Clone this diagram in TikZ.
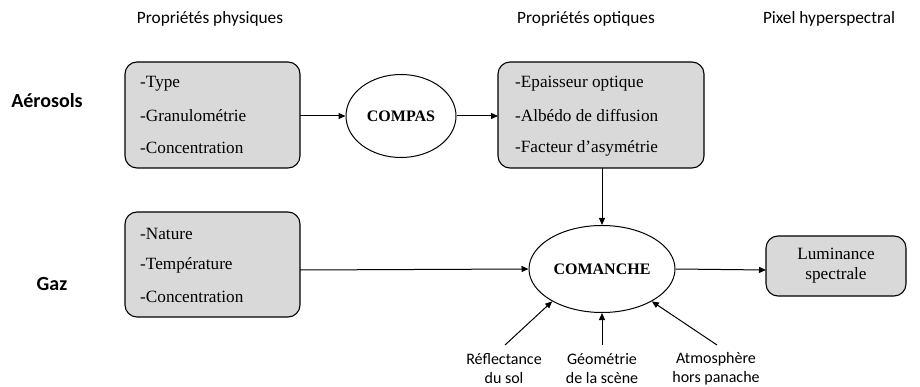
\documentclass[tikz,border=0pt]{standalone}
\usepackage{fontspec}
\setmainfont{Liberation Serif}
\newfontfamily\lblfont{Carlito}
\usetikzlibrary{shapes.geometric,arrows.meta}
\definecolor{boxgray}{HTML}{D9D9D9}
\tikzset{
  propbox/.style={draw=black, line width=1.1pt, fill=boxgray, rounded corners=12pt},
  model/.style={draw=black, line width=1pt, ellipse, fill=white, inner sep=0pt, font=\fontsize{16}{18}\selectfont\bfseries},
  item/.style={anchor=west, font=\fontsize{17.2}{20}\selectfont, inner sep=0pt},
  lbl/.style={font=\lblfont\fontsize{17.3}{20}\selectfont, inner sep=0pt},
  srclbl/.style={font=\lblfont\fontsize{16}{19}\selectfont, inner sep=0pt, align=center},
  side/.style={font=\lblfont\bfseries\fontsize{20}{22}\selectfont, inner sep=0pt},
  conn/.style={line width=1pt, -{Triangle[length=7pt,width=6pt]}}
}
\begin{document}
\begin{tikzpicture}[x=1pt,y=-1pt]
\useasboundingbox (0,0) rectangle (920,387);
% headers
\node[lbl] (h1) at (210,19) {Propriétés physiques};
\node[lbl] (h2) at (586,19) {Propriétés optiques};
\node[lbl] (h3) at (829,19) {Pixel hyperspectral};
\node[side] (aer) at (47,101) {Aérosols};
\node[side] (gaz) at (52,284) {Gaz};
% aerosol box
\draw[propbox] (125,62) rectangle (300,168);
\node[item] (a1) at (140,84) {-Type};
\node[item] (a2) at (140,116) {-Granulométrie};
\node[item] (a3) at (140,148) {-Concentration};
\coordinate (b1r) at (300,116);
% COMPAS
\node[model, minimum width=110pt, minimum height=83pt] (compas) at (401,116) {COMPAS};
% optical box
\draw[propbox] (498,62) rectangle (704,168);
\node[item] (o1) at (515,84) {-Epaisseur optique};
\node[item] (o2) at (515,116) {-Albédo de diffusion};
\node[item] (o3) at (515,148) {-Facteur d’asymétrie};
\coordinate (b2l) at (498,116);
\coordinate (b2b) at (602,168);
% gas box
\draw[propbox] (125,212) rectangle (300,317);
\node[item] (g1) at (140,234) {-Nature};
\node[item] (g2) at (140,265) {-Température};
\node[item] (g3) at (140,297) {-Concentration};
\coordinate (b3r) at (300,270);
% COMANCHE
\node[model, minimum width=146pt, minimum height=87pt] (comanche) at (602,269) {COMANCHE};
% luminance
\draw[propbox] (766,236) rectangle (906,296);
\node[font=\fontsize{17.2}{20}\selectfont, align=center, inner sep=0pt] (lum) at (836,266) {Luminance\\spectrale};
\coordinate (b4l) at (766,270);
% bottom labels
\node[srclbl] (refl) at (504,369) {Réflectance\\du sol};
\node[srclbl] (geo) at (602,369) {Géométrie\\de la scène};
\node[srclbl] (atm) at (716,369) {Atmosphère\\hors panache};
\coordinate (s1) at (505,345);
\coordinate (s2) at (602,345);
\coordinate (s3) at (717,345);
% connectors
\draw[conn] (b1r) -- (compas.west);
\draw[conn] (compas.east) -- (b2l);
\draw[conn] (b2b) -- (comanche.north);
\draw[conn] (b3r) -- (comanche.west);
\draw[conn] (comanche.east) -- (b4l);
\draw[conn] (s1) -- (comanche.213);
\draw[conn] (s2) -- (comanche.south);
\draw[conn] (s3) -- (comanche.327);
\end{tikzpicture}
\end{document}
